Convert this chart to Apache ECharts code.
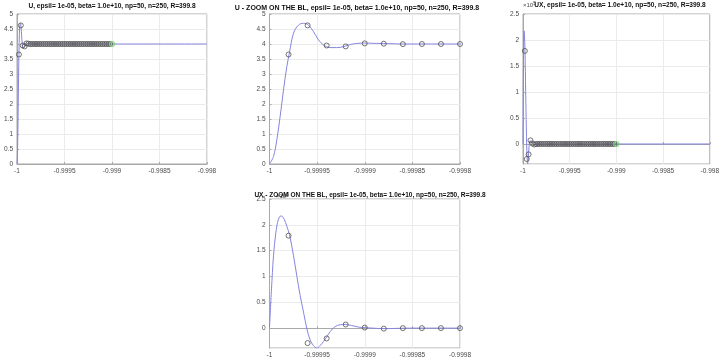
<!DOCTYPE html>
<html>
<head>
<meta charset="utf-8">
<script src="https://cdn.jsdelivr.net/npm/echarts@6/dist/echarts.min.js"></script>
<style>
  html, body { margin: 0; padding: 0; background: #fff; }
  #chart { width: 722px; height: 359px; }
</style>
</head>
<body>
<div id="chart"></div>
<script>
// Titles
const titleU = 'U, epsil= 1e-05, beta= 1.0e+10, np=50, n=250, R=399.8';
const titleUZoom = 'U - ZOOM ON THE BL, epsil= 1e-05, beta= 1.0e+10, np=50, n=250, R=399.8';
const titleUX = 'UX, epsil= 1e-05, beta= 1.0e+10, np=50, n=250, R=399.8';
const titleUXZoom = 'UX - ZOOM ON THE BL, epsil= 1e-05, beta= 1.0e+10, np=50, n=250, R=399.8';

// Fine solution U(x)
const uLineX = [-1, -0.9999958, -0.9999923, -0.9999888, -0.9999853, -0.9999818, -0.999979,
  -0.9999748, -0.9999696, -0.9999643, -0.9999591, -0.9999538, -0.9999486, -0.9999434,
  -0.9999364, -0.9999294, -0.9999224, -0.9999154, -0.9999084, -0.9999, -0.9998874,
  -0.9998734, -0.9998594, -0.9998, -0.999, -0.998];
const uLineY = [0, 0.25, 0.81, 1.59, 2.47, 3.25, 3.72,
  4.36, 4.63, 4.69, 4.63, 4.41, 4.14, 3.97,
  3.88, 3.88, 3.91, 3.98, 4.02, 4.03, 4.02,
  4.01, 4.0, 4.0, 4.0, 4.0];

// Fine solution UX(x), in units of 1e5
const uxLineX = [-1, -0.9999979, -0.9999958, -0.9999934, -0.9999906, -0.9999878, -0.9999846,
  -0.9999818, -0.999979, -0.9999748, -0.9999713, -0.9999678, -0.9999643, -0.9999608,
  -0.9999573, -0.9999538, -0.9999503, -0.9999469, -0.9999434, -0.9999399, -0.9999364,
  -0.9999311, -0.9999259, -0.9999206, -0.9999136, -0.9999066, -0.9999, -0.9998874,
  -0.999879, -0.999866, -0.99985, -0.999, -0.998];
const uxLineY = [0, 0.76, 1.40, 1.84, 2.11, 2.175, 2.11,
  1.97, 1.81, 1.40, 1.01, 0.63, 0.31, -0.01,
  -0.23, -0.34, -0.385, -0.34, -0.26, -0.17, -0.07,
  0.03, 0.065, 0.07, 0.05, 0.02, 0.01, -0.005,
  -0.01, -0.005, 0, 0, 0];

// Collocation nodes
const nodeX = [
  -0.99998, -0.99996, -0.99994, -0.99992, -0.9999,
  -0.99988, -0.99986, -0.99984, -0.99982, -0.9998,
  -0.99978, -0.99976, -0.99974, -0.99972, -0.9997,
  -0.99968, -0.99966, -0.99964, -0.99962, -0.9996,
  -0.99958, -0.99956, -0.99954, -0.99952, -0.9995,
  -0.99948, -0.99946, -0.99944, -0.99942, -0.9994,
  -0.99938, -0.99936, -0.99934, -0.99932, -0.9993,
  -0.99928, -0.99926, -0.99924, -0.99922, -0.9992,
  -0.99918, -0.99916, -0.99914, -0.99912, -0.9991,
  -0.99908, -0.99906, -0.99904, -0.99902];
const nodeU = [
  3.65, 4.62, 3.95, 3.92, 4.02,
  4.01, 3.995, 4.0, 4.0, 4.0,
  4, 4, 4, 4, 4, 4, 4, 4, 4, 4,
  4, 4, 4, 4, 4, 4, 4, 4, 4, 4,
  4, 4, 4, 4, 4, 4, 4, 4, 4, 4,
  4, 4, 4, 4, 4, 4, 4, 4, 4];
const nodeUX = [
  1.79, -0.29, -0.2, 0.07, 0.01,
  -0.01, 0, 0, 0, 0,
  0, 0, 0, 0, 0, 0, 0, 0, 0, 0,
  0, 0, 0, 0, 0, 0, 0, 0, 0, 0,
  0, 0, 0, 0, 0, 0, 0, 0, 0, 0,
  0, 0, 0, 0, 0, 0, 0, 0, 0];
// Interface node
const endX = -0.999;
const endU = 4;
const endUX = 0;

// Axis limits
const xFull = [-1, -0.998];
const xZoom = [-1, -0.9998];
const yU = [0, 5];
const yUX = [-0.385, 2.5];

const pairs = (xs, ys) => xs.map((x, i) => [x, ys[i]]);

const FONT = 'Liberation Sans, Arial, sans-serif';
const lineColor = '#8585e0';
const boxColor = '#a8a8a8';
const gridColor = '#ebebeb';
const labelColor = '#4a4a4a';

const grids = [
  { left: 17, top: 14, width: 190, height: 150 },
  { left: 269.5, top: 14, width: 190.5, height: 150 },
  { left: 523, top: 14, width: 193, height: 150 },
  { left: 269.5, top: 199, width: 190.5, height: 151 }
].map(g => Object.assign({ show: true, borderColor: boxColor, borderWidth: 1, backgroundColor: '#fff' }, g));

function xAxis(gi, range, interval) {
  return {
    type: 'value', gridIndex: gi, min: range[0], max: range[1], interval: interval,
    axisLine: { show: true, lineStyle: { color: boxColor, width: 1 } },
    axisTick: { show: true, inside: true, length: 2, lineStyle: { color: boxColor } },
    axisLabel: { color: labelColor, fontSize: 6.5, fontFamily: FONT, margin: 4, hideOverlap: false },
    splitLine: { show: true, lineStyle: { color: gridColor, width: 1 } }
  };
}
function yAxis(gi, range, extra) {
  return Object.assign({
    type: 'value', gridIndex: gi, min: range[0], max: range[1],
    axisLine: { show: true, lineStyle: { color: boxColor, width: 1 } },
    axisTick: { show: true, inside: true, length: 2, lineStyle: { color: boxColor } },
    axisLabel: { color: labelColor, fontSize: 6.5, fontFamily: FONT, margin: 4, hideOverlap: false },
    splitLine: { show: true, lineStyle: { color: gridColor, width: 1 } }
  }, extra);
}

function curve(gi, xs, ys) {
  return {
    type: 'line', xAxisIndex: gi, yAxisIndex: gi, data: pairs(xs, ys),
    showSymbol: false, smooth: 0.35, clip: true, silent: true,
    lineStyle: { color: lineColor, width: 1 }, z: 2
  };
}
function nodes(gi, ys) {
  return {
    type: 'scatter', xAxisIndex: gi, yAxisIndex: gi, data: pairs(nodeX, ys),
    symbol: 'circle', symbolSize: 5, clip: true, silent: true,
    itemStyle: { color: 'rgba(0,0,0,0)', borderColor: '#505050', borderWidth: 0.8, opacity: 1 }, z: 3
  };
}
function endNode(gi, y) {
  return {
    type: 'scatter', xAxisIndex: gi, yAxisIndex: gi, data: [[endX, y]],
    symbol: 'circle', symbolSize: 5, clip: true, silent: true,
    itemStyle: { color: 'rgba(0,0,0,0)', borderColor: '#6ed36e', borderWidth: 1.2 }, z: 4
  };
}

function titleText(text, cx, cy, size) {
  return {
    type: 'text', x: cx, y: cy, z: 20,
    style: { text: text, fill: '#111', font: 'bold ' + size + 'px ' + FONT, align: 'center', verticalAlign: 'middle' }
  };
}
function exponentText(x, y) {
  return {
    type: 'text', x: x, y: y, z: 15,
    style: {
      text: '{b|×10}{s|5}', fill: labelColor, align: 'left', verticalAlign: 'middle',
      rich: {
        b: { fontSize: 6, fontFamily: FONT, fill: labelColor },
        s: { fontSize: 5, fontFamily: FONT, fill: labelColor, verticalAlign: 'top', padding: [0, 0, 3, 0] }
      }
    }
  };
}

const chart = echarts.init(document.getElementById('chart'), null, { renderer: 'canvas' });
chart.setOption({
  animation: false,
  backgroundColor: '#fff',
  grid: grids,
  xAxis: [
    xAxis(0, xFull, 0.0005),
    xAxis(1, xZoom, 0.00005),
    xAxis(2, xFull, 0.0005),
    xAxis(3, xZoom, 0.00005)
  ],
  yAxis: [
    yAxis(0, yU, { interval: 0.5 }),
    yAxis(1, yU, { interval: 0.5 }),
    yAxis(2, yUX, { splitNumber: 6, axisLabel: { color: labelColor, fontSize: 6.5, fontFamily: FONT, margin: 4, showMinLabel: false, hideOverlap: false } }),
    yAxis(3, yUX, { splitNumber: 6, axisLabel: { color: labelColor, fontSize: 6.5, fontFamily: FONT, margin: 4, showMinLabel: false, hideOverlap: false } })
  ],
  series: [
    curve(0, uLineX, uLineY), nodes(0, nodeU), endNode(0, endU),
    curve(1, uLineX, uLineY), nodes(1, nodeU),
    curve(2, uxLineX, uxLineY), nodes(2, nodeUX), endNode(2, endUX),
    curve(3, uxLineX, uxLineY), nodes(3, nodeUX)
  ],
  graphic: [
    exponentText(523, 5),
    exponentText(276, 196),
    titleText(titleU, 112, 6, 6.6),
    titleText(titleUZoom, 357, 8, 7),
    titleText(titleUX, 620, 5, 6.6),
    titleText(titleUXZoom, 370, 195, 6.5)
  ]
});
</script>
</body>
</html>
